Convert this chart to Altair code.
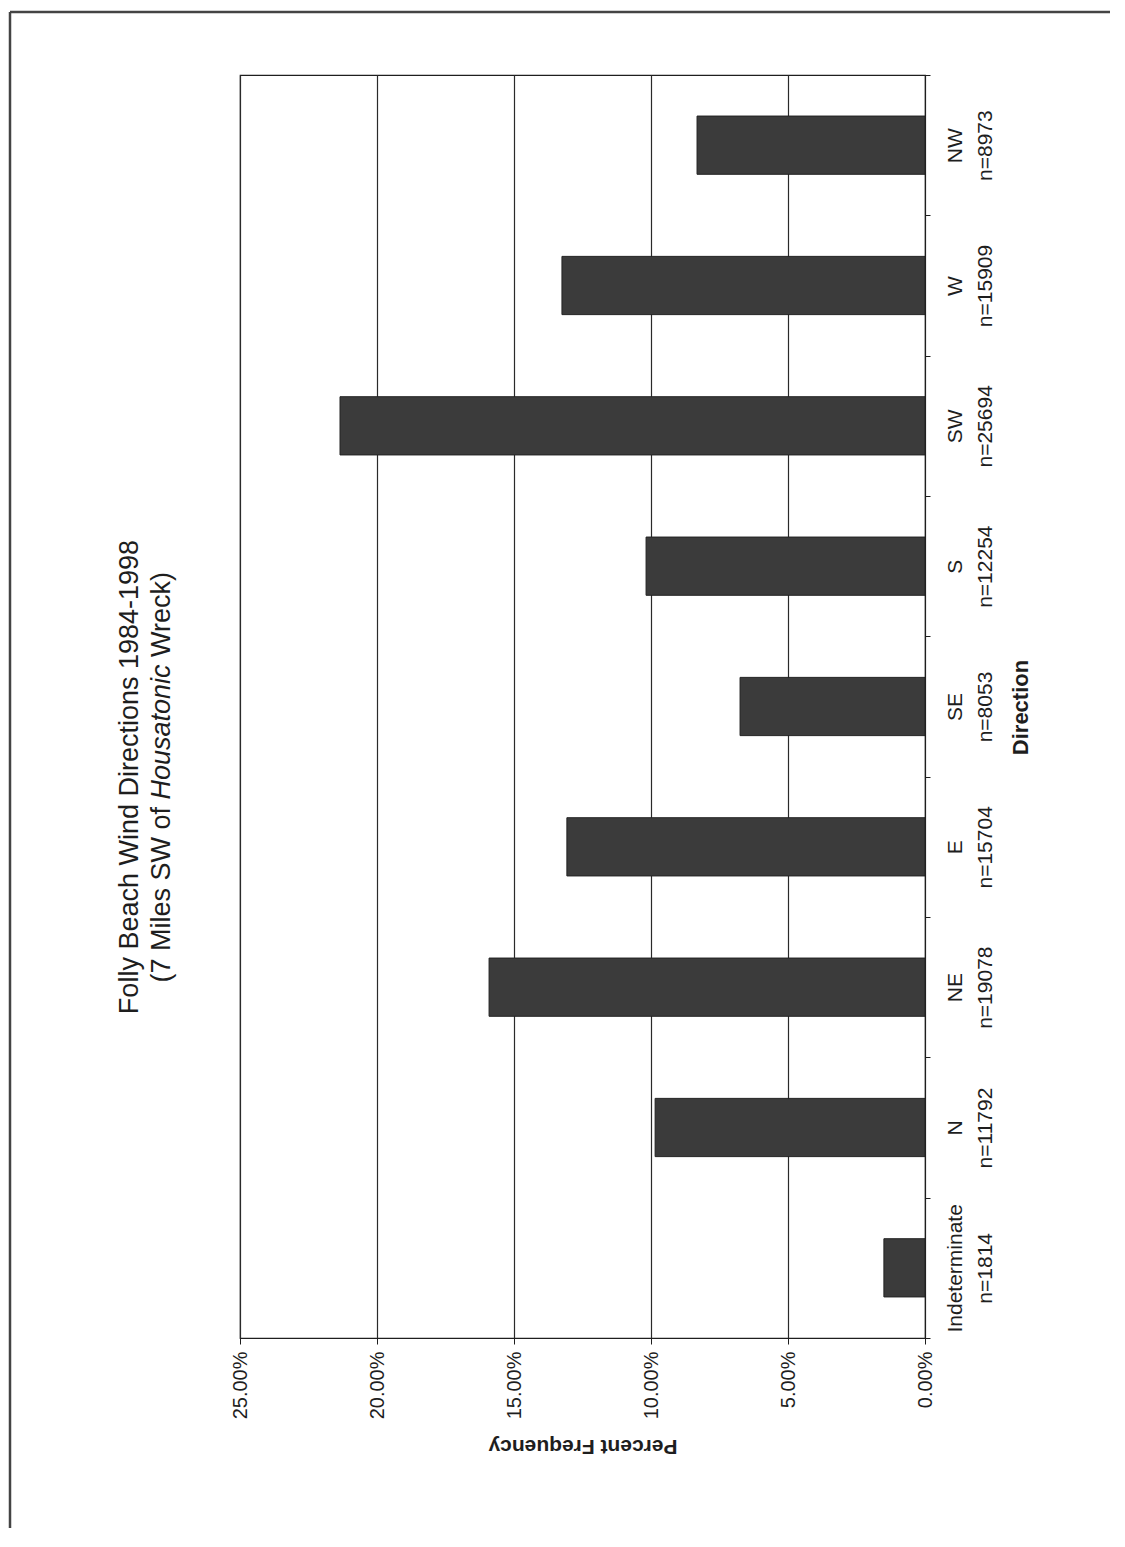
import altair as alt
import pandas as pd

# ---- data ----
directions = ["NW", "W", "SW", "S", "SE", "E", "NE", "N", "Indeterminate"]
counts = ["8973", "15909", "25694", "12254", "8053", "15704", "19078", "11792", "1814"]
percent = [0.0832, 0.1325, 0.2135, 0.1018, 0.0675, 0.1307, 0.1591, 0.0985, 0.0150]
value_ticks = [0.0, 0.05, 0.10, 0.15, 0.20, 0.25]

title_line1 = ["Folly Beach Wind Directions 1984-1998"]
subtitle_a = ["(7 Miles SW of"]
subtitle_b = ["Housatonic"]
subtitle_c = ["Wreck)"]
x_title = "Percent Frequency"
y_title = "Direction"

FONT = "Liberation Sans"
INK = "#1e1e1e"

labels = [f"{d}|n={c}" for d, c in zip(directions, counts)]
df = pd.DataFrame({"label": labels, "pct": percent})

bars = alt.Chart(df).mark_bar(
    color="#3b3b3b", stroke="#222222", strokeWidth=1, height={"band": 0.415}
).encode(
    x=alt.X(
        "pct:Q",
        scale=alt.Scale(domain=[0, 0.25], reverse=True, nice=False, zero=True),
        axis=alt.Axis(
            values=value_ticks, format=".2%", labelAngle=270, labelAlign="right",
            labelBaseline="middle", tickSize=6, labelPadding=7, grid=True,
            gridColor="#2a2a2a", gridWidth=1.2, domainColor=INK, tickColor=INK,
            labelFont=FONT, labelFontSize=20, labelColor=INK,
            title=x_title, titleAngle=180, titleX=342.5, titleY=107,
            titleAlign="center", titleBaseline="middle", titleFont=FONT,
            titleFontSize=21, titleFontWeight="bold", titleColor=INK,
        ),
    ),
    y=alt.Y(
        "label:N", sort=labels,
        scale=alt.Scale(paddingInner=0, paddingOuter=0),
        axis=alt.Axis(
            orient="right", labelExpr="split(datum.label, '|')", labelAngle=270,
            labelAlign="center", labelBaseline="top", labelPadding=14,
            labelLineHeight=30, tickBand="extent", tickSize=5, tickColor=INK,
            domainColor=INK, labelFont=FONT, labelFontSize=21, labelColor=INK,
            title=y_title, titleAngle=270, titleX=95, titleY=632,
            titleAlign="center", titleBaseline="middle", titleFont=FONT,
            titleFontSize=22, titleFontWeight="bold", titleColor=INK,
        ),
    ),
)

def text_piece(vals, x, y, align, style="normal"):
    return alt.Chart(pd.DataFrame({"t": vals})).mark_text(
        angle=270, align=align, baseline="middle", fontSize=27, font=FONT,
        fontStyle=style, color=INK,
    ).encode(x=alt.value(x), y=alt.value(y), text="t:N")

t1 = text_piece(title_line1, -110, 702, "center")
t2a = text_piece(subtitle_a, -78, 907.6, "left")
t2b = text_piece(subtitle_b, -78, 724.6, "left", "italic")
t2c = text_piece(subtitle_c, -78, 582.0, "left")

one = pd.DataFrame({"a": [0]})
left_rule = alt.Chart(one).mark_rule(color="#444444", strokeWidth=2.5).encode(
    x=alt.value(-230), y=alt.value(-63), y2=alt.value(1470)
)
top_rule = alt.Chart(one).mark_rule(color="#444444", strokeWidth=2.5).encode(
    x=alt.value(-230), x2=alt.value(900), y=alt.value(-63)
)

chart = alt.layer(left_rule, top_rule, bars, t1, t2a, t2b, t2c).properties(
    width=685, height=1263,
    autosize=alt.AutoSizeParams(type="none"),
    padding={"left": 232, "top": 67, "right": 185, "bottom": 190},
    background="white",
).configure_view(stroke=INK, strokeWidth=1.2)

chart.save("out.html", embed_options={"renderer": "svg", "actions": False})
